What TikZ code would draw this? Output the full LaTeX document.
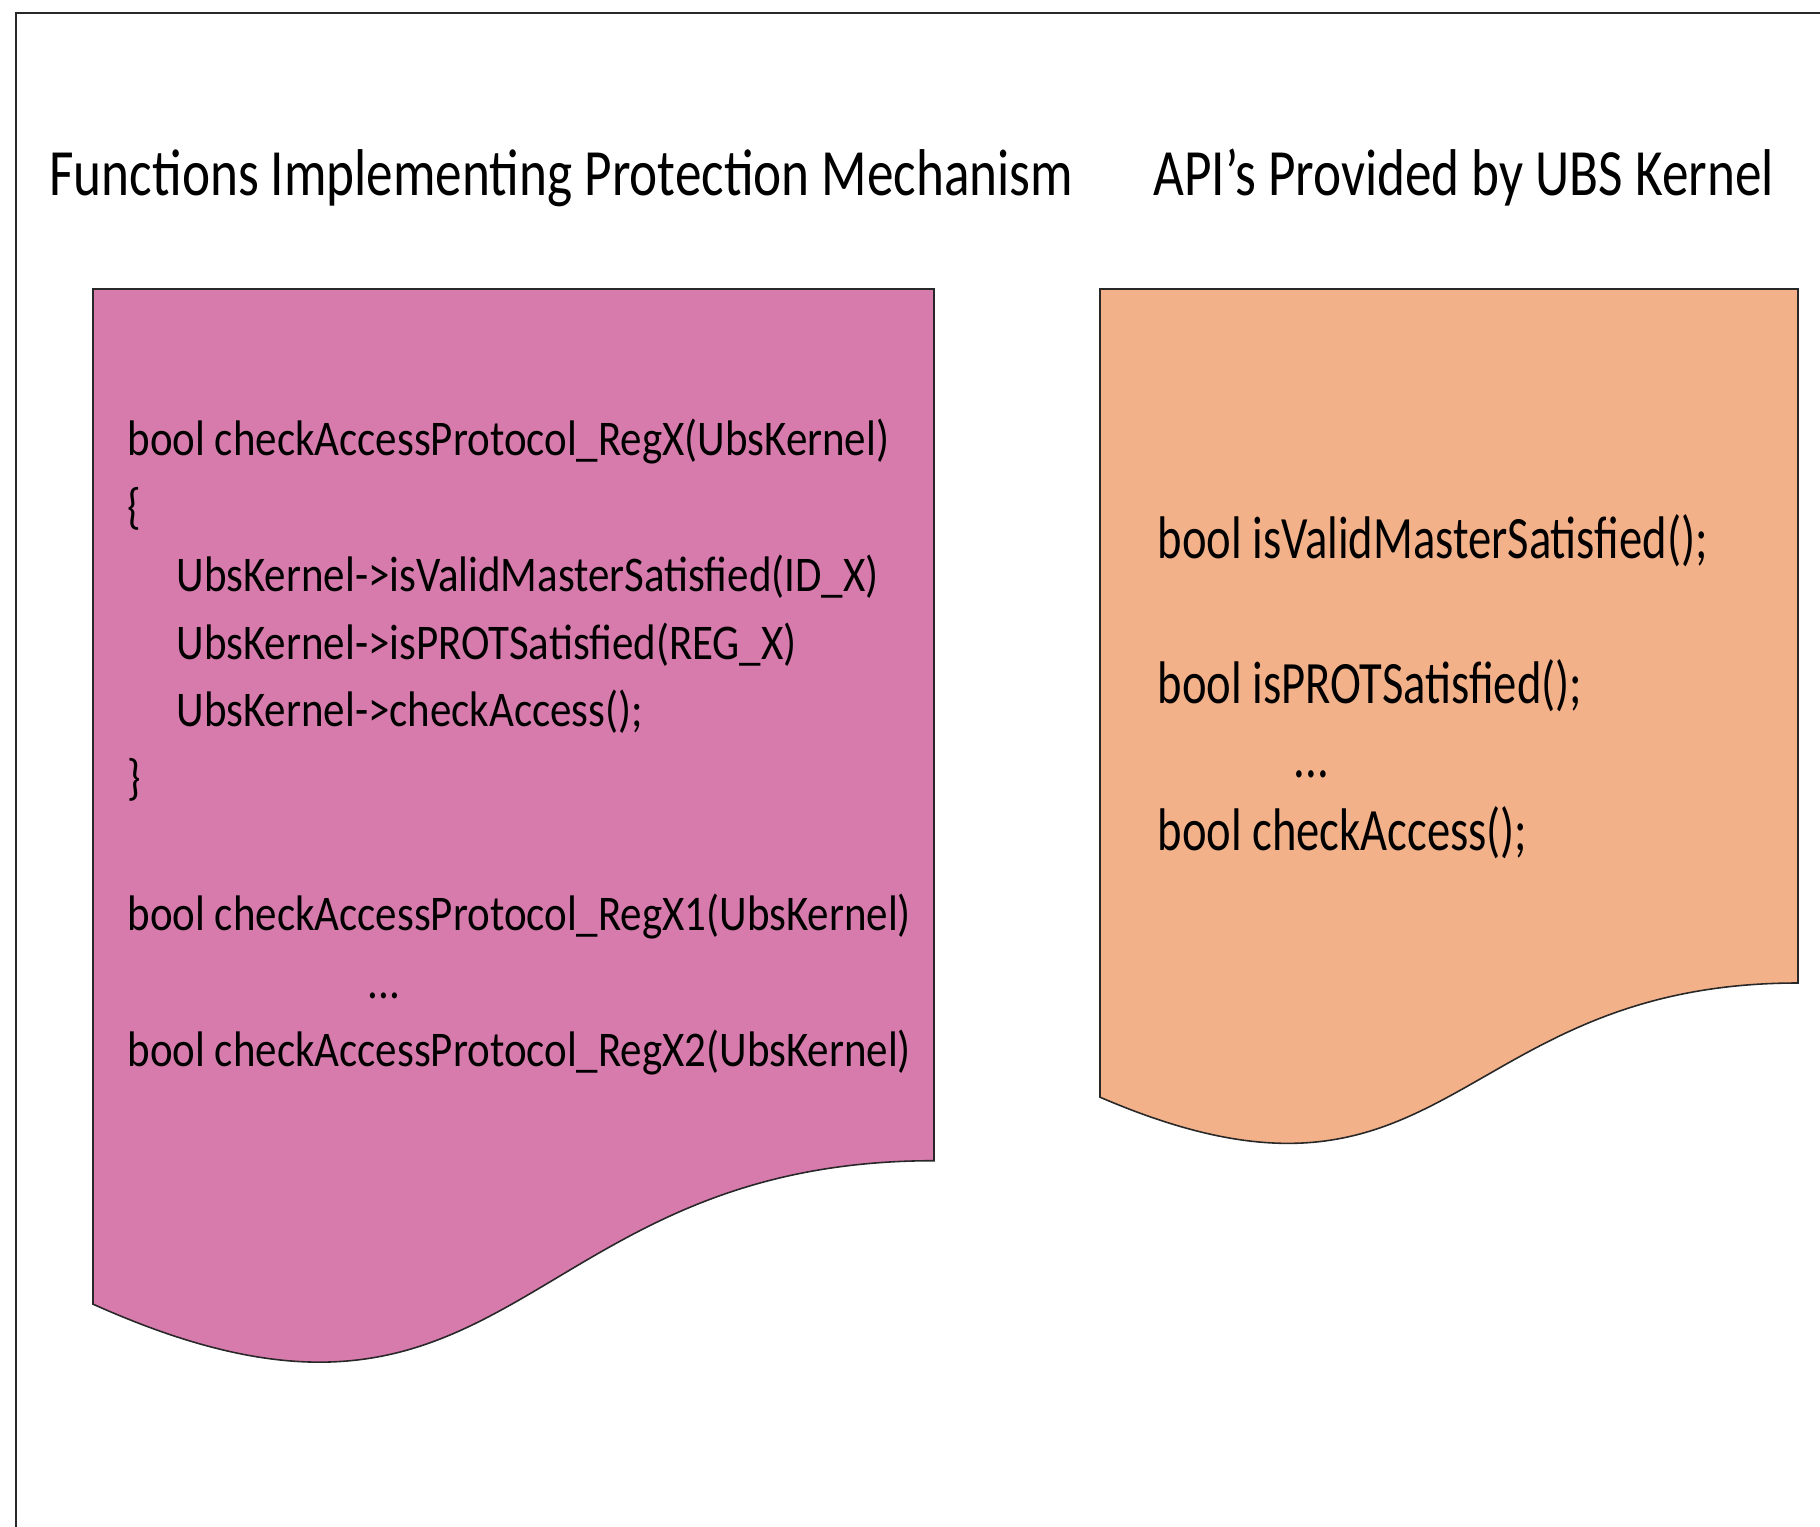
\documentclass[tikz,border=0pt]{standalone}
\usepackage{fontspec}
\setmainfont{Carlito}
\definecolor{protfill}{RGB}{214,123,172}
\definecolor{apifill}{RGB}{243,177,138}
\definecolor{edge}{RGB}{40,40,40}
\tikzset{
  title/.style={anchor=base west, inner sep=0pt, xscale=0.805, transform shape,
    font=\fontsize{18.8}{22}\selectfont},
  code/.style={anchor=base west, inner sep=0pt, xscale=0.86, transform shape,
    font=\fontsize{14.2}{17}\selectfont},
  apicode/.style={anchor=base west, inner sep=0pt, xscale=0.775, transform shape,
    font=\fontsize{17.1}{20}\selectfont},
  docpage/.style={draw=edge, line width=0.45pt},
}
\begin{document}
\begin{tikzpicture}[x=0.01cm, y=-0.01cm]
  \useasboundingbox (0,0) rectangle (1820,1527);
  % outer frame, cut by the page on the right and at the bottom
  \draw[edge, line width=0.6pt] (16,1527) -- (16,13) -- (1820,13);

  % headings
  \node[title] (protTitle) at (49,195) {Functions Implementing Protection Mechanism};
  \node[title] (apiTitle) at (1153,195) {API’s Provided by UBS Kernel};

  % left document shape
  \pgfmathsetmacro{\l}{93}
  \pgfmathsetmacro{\r}{934}
  \pgfmathsetmacro{\t}{289}
  \pgfmathsetmacro{\h}{1087}
  \pgfmathsetmacro{\hc}{(\l+\r)/2}
  \draw[docpage, fill=protfill] (\l,\t) -- (\r,\t) -- (\r,\t+\h*0.80194)
    .. controls (\hc,\t+\h*0.80194) and (\hc,\t+\h*1.10750) .. (\l,\t+\h*0.93389) -- cycle;

  % right document shape
  \pgfmathsetmacro{\l}{1100}
  \pgfmathsetmacro{\r}{1798}
  \pgfmathsetmacro{\h}{865.4}
  \pgfmathsetmacro{\hc}{(\l+\r)/2}
  \draw[docpage, fill=apifill] (\l,\t) -- (\r,\t) -- (\r,\t+\h*0.80194)
    .. controls (\hc,\t+\h*0.80194) and (\hc,\t+\h*1.10750) .. (\l,\t+\h*0.93389) -- cycle;

  % protection functions
  \node[code] (regX) at (127,455) {bool checkAccessProtocol\_RegX(UbsKernel)};
  \node[code] (open) at (127,523) {\{};
  \node[code] (callA) at (176,591) {UbsKernel->isValidMasterSatisfied(ID\_X)};
  \node[code] (callB) at (176,659) {UbsKernel->isPROTSatisfied(REG\_X)};
  \node[code] (callC) at (176,726) {UbsKernel->checkAccess();};
  \node[code] (close) at (127,794) {\}};
  \node[code] (regXa) at (127,930) {bool checkAccessProtocol\_RegX1(UbsKernel)};
  \node[code] (dotsL) at (367,998) {...};
  \node[code] (regXb) at (127,1066) {bool checkAccessProtocol\_RegX2(UbsKernel)};

  % kernel API
  \node[apicode] (apiA) at (1157,558) {bool isValidMasterSatisfied();};
  \node[apicode] (apiB) at (1157,703) {bool isPROTSatisfied();};
  \node[apicode] (dotsR) at (1293,777) {...};
  \node[apicode] (apiC) at (1157,850) {bool checkAccess();};
\end{tikzpicture}
\end{document}
